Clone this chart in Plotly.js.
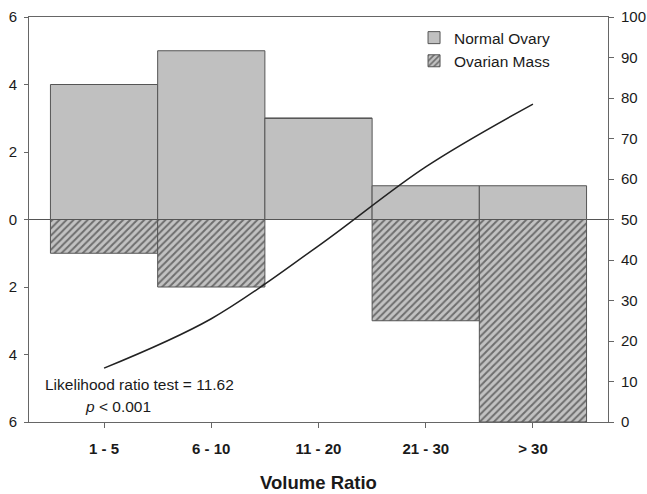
<!DOCTYPE html>
<html>
<head>
<meta charset="utf-8">
<script src="https://cdn.plot.ly/plotly-3.0.1.min.js"></script>
<style>html,body{margin:0;padding:0;background:#fff;}#chart{width:647px;height:494px;}</style>
</head>
<body>
<div id="chart"></div>
<script>
var categories = ["1 - 5", "6 - 10", "11 - 20", "21 - 30", "> 30"];
var normalOvary = [4, 5, 3, 1, 1];
var ovarianMass = [1, 2, 0, 3, 6];
var probability = [13.3, 25.5, 43.5, 63, 78.5];
var leftTicks = [-6, -4, -2, 0, 2, 4, 6];
var rightTicks = [0, 10, 20, 30, 40, 50, 60, 70, 80, 90, 100];

var idx = categories.map(function (c, i) { return i; });

var traces = [
  {
    type: "bar", name: "Normal Ovary", x: idx, y: normalOvary, width: 1,
    marker: { color: "#c0c0c0", line: { color: "#555555", width: 1 } },
    hoverinfo: "y"
  },
  {
    type: "bar", name: "Ovarian Mass", x: idx, y: ovarianMass.map(function (v) { return -v; }), width: 1,
    marker: {
      color: "#bdbdbd", line: { color: "#555555", width: 1 },
      pattern: { shape: "/", fgcolor: "#6e6e6e", bgcolor: "#c2c2c2", size: 5, solidity: 0.4 }
    },
    hoverinfo: "y"
  },
  {
    type: "scatter", mode: "lines", name: "Probability", x: idx, y: probability, yaxis: "y2",
    line: { color: "#222222", width: 1.5, shape: "spline", smoothing: 1 },
    showlegend: false
  }
];

var fam = "Liberation Sans, Arial, sans-serif";
var txt = "#1a1a1a";

var layout = {
  width: 647, height: 494,
  margin: { l: 29, r: 39, t: 17, b: 72 },
  paper_bgcolor: "#ffffff", plot_bgcolor: "#ffffff",
  font: { family: fam, color: txt, size: 15 },
  barmode: "relative", bargap: 0,
  showlegend: true,
  legend: {
    x: 0.665, y: 0.99, xanchor: "left", yanchor: "top",
    bgcolor: "rgba(0,0,0,0)", font: { family: fam, size: 15.5, color: txt },
    tracegroupgap: 0, itemwidth: 30
  },
  xaxis: {
    range: [-0.7, 4.7], tickvals: idx, ticktext: categories,
    tickfont: { family: fam, size: 15, color: txt, weight: "bold" },
    showline: true, linecolor: "#666666", linewidth: 1, mirror: true,
    ticks: "outside", ticklen: 5, tickcolor: "#666666", ticklabelstandoff: 8,
    showgrid: false, zeroline: false,
    title: { text: "<b>Volume Ratio</b>", font: { family: fam, size: 18.5, color: txt }, standoff: 20 }
  },
  yaxis: {
    range: [-6, 6], tickvals: leftTicks, ticktext: leftTicks.map(function (v) { return String(Math.abs(v)); }),
    tickfont: { family: fam, size: 15, color: txt },
    showline: true, linecolor: "#666666", linewidth: 1,
    ticks: "outside", ticklen: 4, tickcolor: "#666666", ticklabelstandoff: 4,
    showgrid: false, zeroline: true, zerolinecolor: "#555555", zerolinewidth: 1
  },
  yaxis2: {
    range: [0, 100], tickvals: rightTicks, overlaying: "y", side: "right",
    tickfont: { family: fam, size: 15, color: txt },
    showline: true, linecolor: "#666666", linewidth: 1,
    ticks: "outside", ticklen: 5, tickcolor: "#666666", ticklabelstandoff: 4,
    showgrid: false, zeroline: false
  },
  annotations: [
    { xref: "paper", yref: "paper", x: 0.024, y: 0.093, xanchor: "left", yanchor: "middle",
      text: "Likelihood ratio test = 11.62", showarrow: false, font: { family: fam, size: 15.5, color: txt } },
    { xref: "paper", yref: "paper", x: 0.093, y: 0.038, xanchor: "left", yanchor: "middle",
      text: "<i>p</i> < 0.001", showarrow: false, font: { family: fam, size: 15.5, color: txt } }
  ]
};

Plotly.newPlot("chart", traces, layout, { displayModeBar: false, staticPlot: true });
</script>
</body>
</html>
